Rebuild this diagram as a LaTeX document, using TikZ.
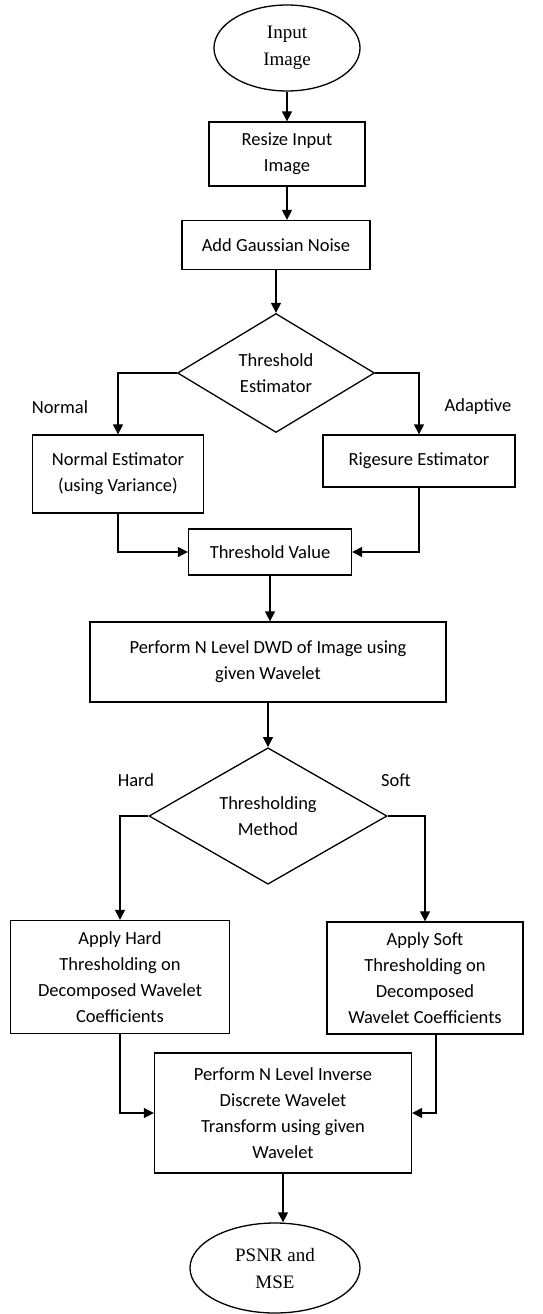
\documentclass[tikz,border=0pt]{standalone}
\usepackage{fontspec}
\setmainfont{Carlito}
\newfontfamily\termfont{Liberation Serif}
\usetikzlibrary{shapes.geometric,arrows.meta}

\begin{document}
\begin{tikzpicture}[
        x=1pt, y=-1pt,
        box/.style={rectangle, draw=black, line width=1.3pt, inner sep=0pt, align=center, font=\fontsize{18.5}{26}\selectfont},
        term/.style={ellipse, draw=black, line width=1.3pt, inner sep=0pt, align=center, font=\termfont\fontsize{19}{27}\selectfont},
        decision/.style={diamond, draw=black, line width=1.3pt, inner sep=0pt, align=center, font=\fontsize{18.5}{26}\selectfont},
        branch/.style={font=\fontsize{18.5}{20}\selectfont},
        arrow/.style={-{Triangle[length=10pt, width=10pt]}, line width=1.3pt}
    ]
    \useasboundingbox (0,0) rectangle (542,1314);

    % Input and preprocessing
    \node[term, minimum width=146pt, minimum height=86pt] (input) at (287,48) {Input\\Image};
    \node[box, minimum width=156pt, minimum height=64pt] (resize) at (287,154) {Resize Input\\Image};
    \node[box, minimum width=188pt, minimum height=49pt] (noise) at (276,245) {Add Gaussian Noise};

    % Threshold estimation
    \node[decision, minimum width=197pt, minimum height=119pt] (estimator) at (276,373) {Threshold\\Estimator};
    \node[branch] (normal-label) at (60,407) {Normal};
    \node[branch] (adaptive-label) at (478,407) {Adaptive};
    \node[box, minimum width=171pt, minimum height=78pt] (normal) at (118,474) {Normal Estimator\\(using Variance)};
    \node[box, minimum width=192pt, minimum height=52pt] (rigesure) at (419,461) {Rigesure Estimator};
    \node[box, minimum width=163pt, minimum height=46pt] (thrvalue) at (270,552) {Threshold Value};

    % Decomposition
    \node[box, minimum width=356pt, minimum height=80pt] (dwd) at (268,662) {Perform N Level DWD of Image using\\given Wavelet};

    % Thresholding method
    \node[decision, minimum width=238pt, minimum height=136pt] (method) at (268,816) {Thresholding\\Method};
    \node[branch] (hard-label) at (136,780) {Hard};
    \node[branch] (soft-label) at (396,780) {Soft};
    \node[box, minimum width=219pt, minimum height=113pt] (hard) at (120,977) {Apply Hard\\Thresholding on\\Decomposed Wavelet\\Coefficients};
    \node[box, minimum width=196pt, minimum height=112pt] (soft) at (425,978) {Apply Soft\\Thresholding on\\Decomposed\\Wavelet Coefficients};

    % Reconstruction and output
    \node[box, minimum width=257pt, minimum height=120pt] (idwt) at (283,1113) {Perform N Level Inverse\\Discrete Wavelet\\Transform using given\\Wavelet};
    \node[term, minimum width=170pt, minimum height=90pt] (output) at (275,1268) {PSNR and\\MSE};

    % Arrows
    \draw[arrow] (input.south) -- (resize.north);
    \draw[arrow] (resize.south) -- (resize.south |- noise.north);
    \draw[arrow] (noise.south) -- (estimator.north);
    \draw[arrow] (estimator.west) -| (normal.north);
    \draw[arrow] (estimator.east) -| (rigesure.north);
    \draw[arrow] (normal.south) |- (thrvalue.west);
    \draw[arrow] (rigesure.south) |- (thrvalue.east);
    \draw[arrow] (thrvalue.south) -- (thrvalue.south |- dwd.north);
    \draw[arrow] (dwd.south) -- (method.north);
    \draw[arrow] (method.west) -| (hard.north);
    \draw[arrow] (method.east) -| (soft.north);
    \draw[arrow] (hard.south) |- (idwt.west);
    \draw[arrow] ([xshift=11pt]soft.south) |- (idwt.east);
    \draw[arrow] (idwt.south) -- (idwt.south |- output.north);

\end{tikzpicture}
\end{document}
